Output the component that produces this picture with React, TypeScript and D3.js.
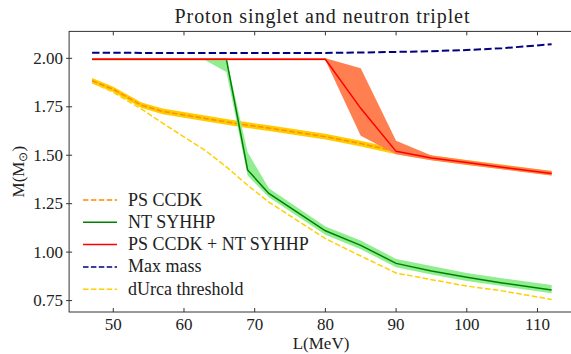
import React from "react";
import * as d3 from "d3";

// L values (MeV) shared by all curves
const L = [47, 50, 54, 57, 63, 66, 69, 72, 80, 85, 90, 95, 100, 105, 112];

const maxMass = [2.029, 2.029, 2.028, 2.028, 2.027, 2.027, 2.027, 2.027, 2.028, 2.03, 2.033, 2.037, 2.043, 2.052, 2.073];

const psMid = [1.884, 1.84, 1.758, 1.726, 1.69, 1.672, 1.655, 1.64, 1.596, 1.56, 1.52, 1.487, 1.463, 1.44, 1.407];
const psLow = [1.87, 1.826, 1.744, 1.711, 1.675, 1.657, 1.64, 1.625, 1.581, 1.545, 1.505, 1.474, 1.45, 1.428, 1.395];
const psHigh = [1.898, 1.854, 1.772, 1.741, 1.705, 1.687, 1.67, 1.655, 1.611, 1.575, 1.535, 1.5, 1.476, 1.452, 1.419];

const ntMid = [1.995, 1.995, 1.995, 1.995, 1.995, 1.995, 1.424, 1.303, 1.11, 1.035, 0.942, 0.903, 0.87, 0.841, 0.804];
const ntLow = [1.99, 1.99, 1.99, 1.99, 1.99, 1.93, 1.395, 1.283, 1.09, 1.015, 0.922, 0.885, 0.851, 0.825, 0.788];
const ntHigh = [2.0, 2.0, 2.0, 2.0, 2.0, 2.0, 1.515, 1.33, 1.132, 1.06, 0.965, 0.928, 0.892, 0.865, 0.83];

const bothMid = [1.995, 1.995, 1.995, 1.995, 1.995, 1.995, 1.995, 1.995, 1.995, 1.742, 1.52, 1.486, 1.462, 1.438, 1.406];
const bothLow = [1.99, 1.99, 1.99, 1.99, 1.99, 1.99, 1.99, 1.99, 1.99, 1.6, 1.505, 1.474, 1.451, 1.428, 1.396];
const bothHigh = [2.0, 2.0, 2.0, 2.0, 2.0, 2.0, 2.0, 2.0, 2.0, 1.949, 1.575, 1.498, 1.474, 1.45, 1.418];

const dUrca = [1.875, 1.825, 1.738, 1.665, 1.525, 1.44, 1.345, 1.258, 1.07, 0.98, 0.892, 0.858, 0.825, 0.8, 0.756];

const xTicks = [50, 60, 70, 80, 90, 100, 110];
const yTicks = [0.75, 1.0, 1.25, 1.5, 1.75, 2.0];

const legendItems = [
  { label: "PS CCDK", color: "#ff8c00", dash: "5.5,2.4" },
  { label: "NT SYHHP", color: "#008000", dash: null },
  { label: "PS CCDK + NT SYHHP", color: "#ff0000", dash: null },
  { label: "Max mass", color: "#000080", dash: "5.5,2.4" },
  { label: "dUrca threshold", color: "#ffd000", dash: "5.5,2.4" },
];

const W = 571;
const H = 354;
const textStyle: React.CSSProperties = { fontFamily: '"Liberation Serif", "Times New Roman", Times, serif' };

export default function App() {
  const x = d3.scaleLinear().domain([43.75, 115.25]).range([69.1, 574.6]);
  const y = d3.scaleLinear().domain([0.691, 2.139]).range([312, 31.4]);
  const [left, right] = x.range();
  const [bottom, top] = y.range();

  const line = (vals: number[]) =>
    d3.line<number>().x((_, i) => x(L[i])).y((v) => y(v))(vals) || "";
  const area = (lo: number[], hi: number[]) =>
    d3
      .area<number>()
      .x((_, i) => x(L[i]))
      .y0((_, i) => y(lo[i]))
      .y1((_, i) => y(hi[i]))(L) || "";

  return (
    <div style={{ position: "fixed", left: 0, top: 0 }}>
      <svg width={W} height={H} style={{ display: "block", background: "#fff" }}>
        <defs>
          <clipPath id="plot">
            <rect x={left} y={top} width={right - left} height={bottom - top} />
          </clipPath>
        </defs>

        <g clipPath="url(#plot)">
          {/* PS CCDK */}
          <path d={area(psLow, psHigh)} fill="#ffcc00" />
          <path d={line(psMid)} fill="none" stroke="#ff8c00" strokeWidth={1.5} strokeDasharray="5.5,2.4" />
          {/* NT SYHHP */}
          <path d={area(ntLow, ntHigh)} fill="#90ee90" />
          <path d={line(ntMid)} fill="none" stroke="#008000" strokeWidth={1.5} />
          {/* PS + NT */}
          <path d={area(bothLow, bothHigh)} fill="#ff7f50" />
          <path d={line(bothMid)} fill="none" stroke="#ff0000" strokeWidth={1.5} />
          {/* max mass */}
          <path d={line(maxMass)} fill="none" stroke="#000080" strokeWidth={2} strokeDasharray="7.4,3.2" />
          {/* dUrca */}
          <path d={line(dUrca)} fill="none" stroke="#ffd000" strokeWidth={1.5} strokeDasharray="5.5,2.4" />
        </g>

        {/* axes frame */}
        <rect x={left} y={top} width={right - left} height={bottom - top} fill="none" stroke="#333" strokeWidth={1} />

        <g style={textStyle} fill="#222">
          {xTicks.map((t) => (
            <g key={"x" + t}>
              <line x1={x(t)} x2={x(t)} y1={bottom} y2={bottom - 4} stroke="#333" />
              <line x1={x(t)} x2={x(t)} y1={top} y2={top + 4} stroke="#333" />
              <text x={x(t)} y={bottom + 18} textAnchor="middle" fontSize={17}>
                {t}
              </text>
            </g>
          ))}
          {yTicks.map((t) => (
            <g key={"y" + t}>
              <line x1={left - 3} x2={left + 3} y1={y(t)} y2={y(t)} stroke="#333" />
              <text x={left - 6} y={y(t) + 5.5} textAnchor="end" fontSize={17}>
                {t.toFixed(2)}
              </text>
            </g>
          ))}

          <text x={322} y={23} textAnchor="middle" fontSize={20} textLength={295} lengthAdjust="spacing">
            Proton singlet and neutron triplet
          </text>
          <text x={321} y={349} textAnchor="middle" fontSize={17}>
            L(MeV)
          </text>
          <text transform={`translate(24,${(top + bottom) / 2}) rotate(-90)`} textAnchor="middle" fontSize={17}>
            M(M<tspan fontSize={12} dy={3}>⊙</tspan>
            <tspan dy={-3}>)</tspan>
          </text>

          {/* legend */}
          {legendItems.map((d, i) => {
            const cy = 200 + i * 22.3;
            return (
              <g key={d.label}>
                <line
                  x1={83}
                  x2={117}
                  y1={cy}
                  y2={cy}
                  stroke={d.color}
                  strokeWidth={1.5}
                  strokeDasharray={d.dash || undefined}
                />
                <text x={128} y={cy + 5.5} fontSize={18}>
                  {d.label}
                </text>
              </g>
            );
          })}
        </g>
      </svg>
    </div>
  );
}
